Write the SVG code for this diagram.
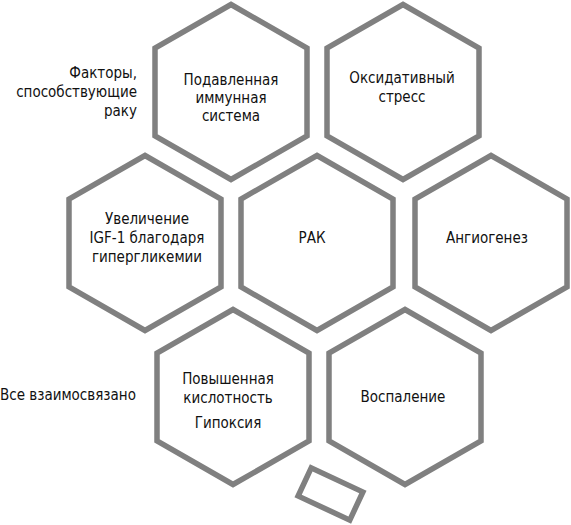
<svg xmlns="http://www.w3.org/2000/svg" xmlns:xlink="http://www.w3.org/1999/xlink" width="571" height="525" viewBox="0 0 571 525">
  <style>
    .hex { fill: #ffffff; stroke: #808080; stroke-width: 5.5; stroke-linejoin: miter; }
    .t { font-family: 'Liberation Sans Narrow', 'DejaVu Sans Condensed', sans-serif; font-size: 15px; fill: #111111; text-anchor: middle; }
    .r { text-anchor: end; }
    .l { text-anchor: start; }
  </style>
  <defs>
    <polygon id="hexshape" points="0,-87.5 76,-44 76,44 0,87.5 -76,44 -76,-44"/>
  </defs>
  <rect width="571" height="525" fill="#ffffff"/>

  <g id="label-factors">
    <text class="t r" x="137" y="78">Факторы,</text>
    <text class="t r" x="137" y="97">способствующие</text>
    <text class="t r" x="137" y="116">раку</text>
  </g>
  <g id="label-all">
    <text class="t l" x="0" y="400">Все взаимосвязано</text>
  </g>

  <g id="node-immune">
    <use xlink:href="#hexshape" class="hex" x="231" y="92"/>
    <text class="t" x="231" y="84.5">Подавленная</text>
    <text class="t" x="231" y="102.5">иммунная</text>
    <text class="t" x="231" y="120.5">система</text>
  </g>
  <g id="node-oxidative">
    <use xlink:href="#hexshape" class="hex" x="403" y="92"/>
    <text class="t" x="402" y="83">Оксидативный</text>
    <text class="t" x="402" y="101.5">стресс</text>
  </g>
  <g id="node-igf">
    <use xlink:href="#hexshape" class="hex" x="145" y="243"/>
    <text class="t" x="147" y="224">Увеличение</text>
    <text class="t" x="147" y="243">IGF-1 благодаря</text>
    <text class="t" x="147" y="262">гипергликемии</text>
  </g>
  <g id="node-cancer">
    <use xlink:href="#hexshape" class="hex" x="317" y="243"/>
    <text class="t" x="312" y="243">РАК</text>
  </g>
  <g id="node-angio">
    <use xlink:href="#hexshape" class="hex" x="491" y="243"/>
    <text class="t" x="487" y="243">Ангиогенез</text>
  </g>
  <g id="node-acid">
    <use xlink:href="#hexshape" class="hex" x="233" y="397"/>
    <text class="t" x="228" y="384">Повышенная</text>
    <text class="t" x="228" y="403">кислотность</text>
    <text class="t" x="228" y="428">Гипоксия</text>
  </g>
  <g id="node-inflammation">
    <use xlink:href="#hexshape" class="hex" x="405" y="397"/>
    <text class="t" x="403" y="402">Воспаление</text>
  </g>
  <g id="shape-rect">
    <rect class="hex" x="-28.5" y="-15.5" width="57" height="31" stroke-width="4.5" transform="translate(330.5,494) rotate(25)"/>
  </g>
</svg>
